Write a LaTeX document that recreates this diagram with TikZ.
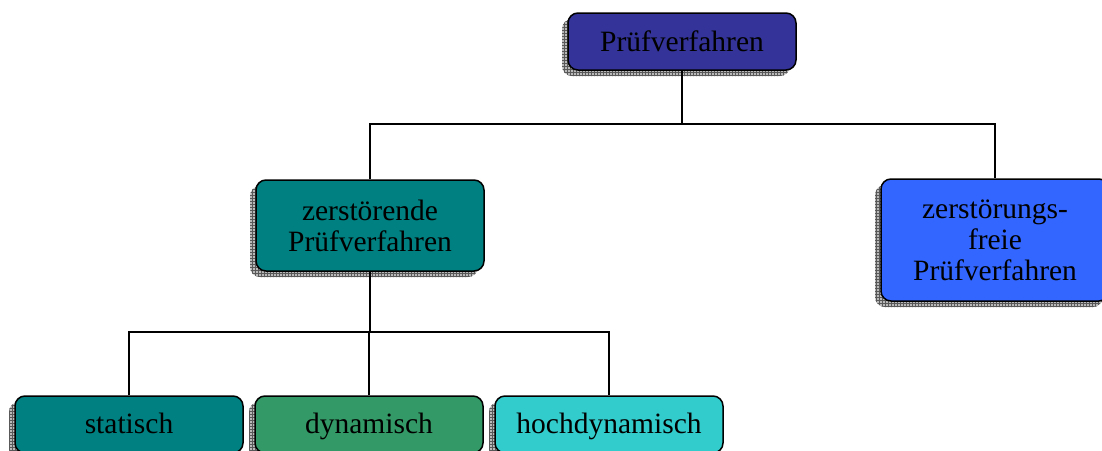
\documentclass[tikz,border=0pt]{standalone}
\usepackage{fontspec}
\setmainfont{Liberation Serif}
\usetikzlibrary{shadows,patterns}
\definecolor{cTop}{HTML}{333399}
\definecolor{cTeal}{HTML}{008080}
\definecolor{cBlue}{HTML}{3366FF}
\definecolor{cGreen}{HTML}{339966}
\definecolor{cCyan}{HTML}{33CCCC}
\tikzset{
  box/.style={draw=black, line width=1.5pt, rounded corners=10pt,
    minimum width=228pt, align=center, inner sep=0pt,
    font=\fontsize{29.5}{31}\selectfont,
    general shadow={fill=gray!55, shadow xshift=-6pt, shadow yshift=-6pt},
    general shadow={pattern=grid, pattern color=black!65, shadow xshift=-6pt, shadow yshift=-6pt}},
  oneline/.style={text height=21pt, text depth=4pt},
  multiline/.style={text depth=0pt},
  conn/.style={draw=black, line width=1.7pt}
}
\begin{document}
\begin{tikzpicture}[x=1pt,y=-1pt]
\useasboundingbox (0,0) rectangle (1102,450);
\clip (0,0) rectangle (1102,450);
\fill[white] (0,0) rectangle (1102,450);
\node[box, oneline, text height=22pt, text depth=3pt, fill=cTop, minimum height=57pt] (top) at (682,41.5) {Prüfverfahren};
\node[box, multiline, fill=cTeal, minimum height=91pt] (zd) at (370,225.5) {zerstörende\\Prüfverfahren};
\node[box, multiline, fill=cBlue, minimum height=122pt] (zf) at (995,240) {zerstörungs-\\freie\\Prüfverfahren};
\node[box, oneline, fill=cTeal, minimum height=57pt] (st) at (129,424.5) {statisch};
\node[box, oneline, fill=cGreen, minimum height=57pt] (dy) at (369,424.5) {dynamisch};
\node[box, oneline, fill=cCyan, minimum height=57pt] (hd) at (609,424.5) {hochdynamisch};
\coordinate (b1) at (682,124);
\coordinate (b2) at (370,332);
\draw[conn] (top.south) -- (b1);
\draw[conn] (zd.north) |- (b1) -| (zf.north);
\draw[conn] (zd.south) -- (b2);
\draw[conn] (st.north) |- (b2) -| (hd.north);
\draw[conn] (dy.north) -- (dy.north |- b2);
\end{tikzpicture}
\end{document}
